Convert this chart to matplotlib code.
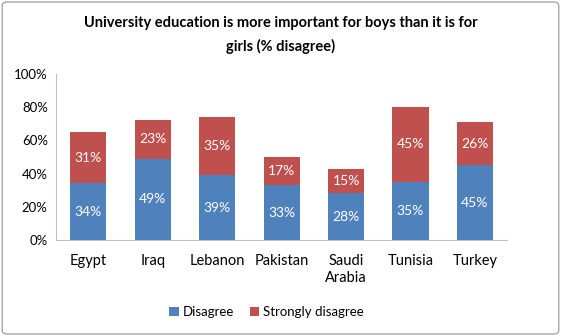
import matplotlib
matplotlib.use('Agg')
import matplotlib.pyplot as plt
from matplotlib.patches import FancyBboxPatch
import numpy as np

countries = ['Egypt', 'Iraq', 'Lebanon', 'Pakistan', 'Saudi\nArabia', 'Tunisia', 'Turkey']
disagree = [34, 49, 39, 33, 28, 35, 45]
strongly = [31, 23, 35, 17, 15, 45, 26]

blue = '#4F81BD'
red = '#C0504D'

plt.rcParams['font.family'] = ['Lato', 'DejaVu Sans']

fig = plt.figure(figsize=(5.61, 3.36), dpi=100)
ax = fig.add_axes([0.1, 0.286, 0.804, 0.494])

x = np.arange(len(countries))
w = 0.56
b1 = ax.bar(x, disagree, w, color=blue, label='Disagree')
b2 = ax.bar(x, strongly, w, bottom=disagree, color=red, label='Strongly disagree')

for i in range(len(x)):
    ax.text(x[i], disagree[i] / 2, f'{disagree[i]}%', ha='center', va='center',
            color='white', fontsize=10)
    ax.text(x[i], disagree[i] + strongly[i] / 2, f'{strongly[i]}%', ha='center',
            va='center', color='white', fontsize=10)

ax.set_ylim(0, 100)
ax.set_xlim(-0.5, len(x) - 0.5)
ax.set_yticks(range(0, 101, 20))
ax.set_yticklabels([f'{v}%' for v in range(0, 101, 20)], fontsize=9.5)
ax.set_xticks(x)
ax.set_xticklabels(countries, fontsize=10.5, linespacing=1.3)
ax.tick_params(axis='y', length=0, pad=6)
ax.tick_params(axis='x', length=0, pad=10)
for s in ['top', 'right']:
    ax.spines[s].set_visible(False)
ax.spines['left'].set_color('#BFBFBF')
ax.spines['bottom'].set_color('#BFBFBF')

fig.text(0.5, 0.896, 'University education is more important for boys than it is for\ngirls (% disagree)',
         ha='center', va='center', fontsize=10.5, fontweight='bold', linespacing=1.75)

fig.legend(handles=[b1, b2], loc='center', bbox_to_anchor=(0.475, 0.07), ncol=2,
           frameon=False, fontsize=9.5, handlelength=0.7, handleheight=0.7,
           handletextpad=0.3, columnspacing=1.2)

border = FancyBboxPatch((0.004, 0.006), 0.992, 0.988, boxstyle='round,pad=0,rounding_size=0.01',
                        transform=fig.transFigure, fill=False, edgecolor='#A6A6A6', linewidth=1)
fig.patches.append(border)

fig.savefig('out.png', dpi=100)
